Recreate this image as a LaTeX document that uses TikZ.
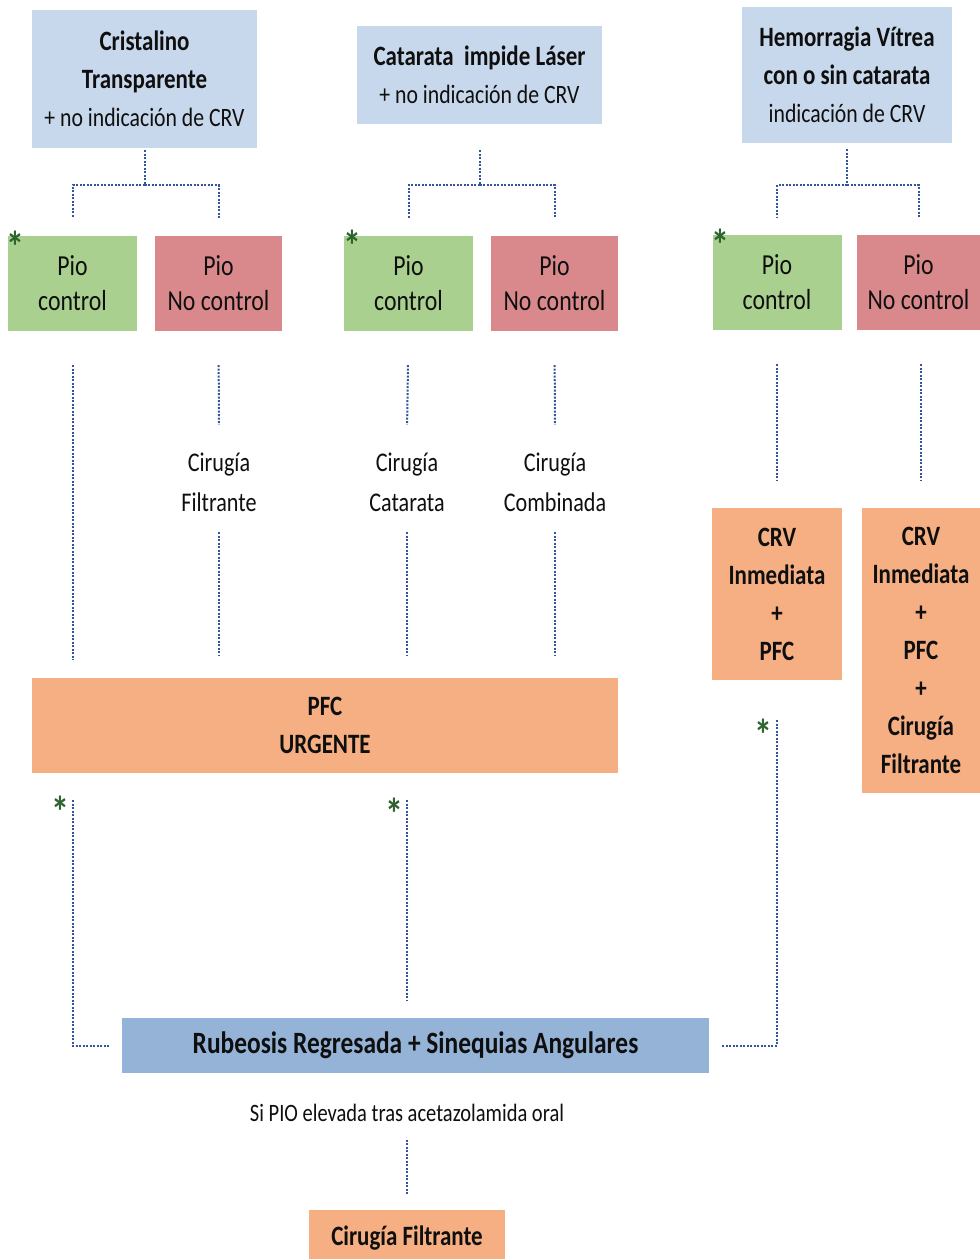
\documentclass[tikz,border=0pt]{standalone}
\usepackage{fontspec}
\setmainfont{Carlito}[FakeStretch=0.82]
\definecolor{topblue}{RGB}{200,216,236}
\definecolor{pgreen}{RGB}{169,208,142}
\definecolor{pred}{RGB}{217,137,139}
\definecolor{porange}{RGB}{245,175,130}
\definecolor{rubblue}{RGB}{149,179,215}
\definecolor{lineblue}{RGB}{50,85,155}
\definecolor{stargreen}{RGB}{45,100,45}
\definecolor{txt}{RGB}{15,15,15}
\newcommand{\tb}[1]{{\fontsize{28}{38}\selectfont\bfseries #1}}
\begin{document}
\begin{tikzpicture}[x=1pt,y=-1pt,
  box/.style={inner sep=0pt, align=center, text=txt},
  topbox/.style={box, fill=topblue, font=\fontsize{26.5}{38}\selectfont},
  pioyes/.style={box, fill=pgreen, minimum width=129pt, minimum height=95pt, font=\fontsize{29}{35}\selectfont},
  piono/.style={box, fill=pred, minimum width=127pt, minimum height=95pt, font=\fontsize{29}{35}\selectfont},
  orangebox/.style={box, fill=porange, font=\fontsize{28}{38}\selectfont\bfseries},
  lab/.style={box, minimum height=100pt, font=\fontsize{27}{40}\selectfont},
  conn/.style={draw=lineblue, line width=2pt, dash pattern=on 2pt off 1.5pt},
  astk/.style={inner sep=0pt, text=stargreen, font=\fontsize{44}{44}\selectfont\bfseries}
]
\useasboundingbox (0,0) rectangle (980,1259);
\fill[white] (0,0) rectangle (980,1259);

% top boxes
\node[topbox, minimum width=225pt, minimum height=138pt] (tA) at (144.5,79)
  {\tb{Cristalino}\\\tb{Transparente}\\+ no indicación de CRV};
\node[topbox, minimum width=245pt, minimum height=98pt] (tB) at (479.5,75)
  {\tb{Catarata\ \ impide Láser}\\+ no indicación de CRV};
\node[topbox, minimum width=210pt, minimum height=136pt] (tC) at (847,75)
  {\tb{Hemorragia Vítrea}\\\tb{con o sin catarata}\\indicación de CRV};

% Pio boxes
\node[pioyes] (gA) at (72.5,283.5) {Pio\\control};
\node[piono]  (rA) at (218.5,283.5) {Pio\\No control};
\node[pioyes] (gB) at (408.5,283.5) {Pio\\control};
\node[piono]  (rB) at (554.5,283.5) {Pio\\No control};
\node[pioyes] (gC) at (777,282.5) {Pio\\control};
\node[piono, minimum width=123pt] (rC) at (918.5,282.5) {Pio\\No control};

\node[astk] (sgA) at (15,247) {*};
\node[astk] (sgB) at (352,246) {*};
\node[astk] (sgC) at (720,245) {*};

% tree connectors
\coordinate (jA) at (144.5,185);
\coordinate (jB) at (479.5,185);
\coordinate (jC) at (847,185);
\draw[conn, shorten <=2pt] (tA.south) -- (jA);
\draw[conn, shorten >=18pt] (jA) -| (gA.north);
\draw[conn, shorten >=18pt] (jA) -| (rA.north);
\draw[conn, shorten <=26pt] (tB.south) -- (jB);
\draw[conn, shorten >=18pt] (jB) -| (gB.north);
\draw[conn, shorten >=18pt] (jB) -| (rB.north);
\draw[conn, shorten <=6pt] (tC.south) -- (jC);
\draw[conn, shorten >=17pt] (jC) -| (gC.north);
\draw[conn, shorten >=17pt] (jC) -| (rC.north);

% labels
\node[lab] (l1) at (219,482) {Cirugía\\Filtrante};
\node[lab] (l2) at (407,482) {Cirugía\\Catarata};
\node[lab] (l3) at (555,482) {Cirugía\\Combinada};

% PFC urgent
\node[orangebox, minimum width=586pt, minimum height=95pt] (pfc) at (325,725.5) {PFC\\URGENTE};

% CRV boxes
\node[orangebox, minimum width=130pt, minimum height=172pt] (crv1) at (777,594) {CRV\\Inmediata\\+\\PFC};
\node[orangebox, minimum width=118pt, minimum height=285pt] (crv2) at (921,650.5) {CRV\\Inmediata\\+\\PFC\\+\\Cirugía\\Filtrante};

% vertical connectors
\draw[conn, shorten <=34pt, shorten >=18pt] (gA.south) -- (gA.south |- pfc.north);
\draw[conn, shorten <=34pt, shorten >=7pt] (rA.south) -- (l1.north);
\draw[conn, shorten >=23pt] (l1.south) -- (l1.south |- pfc.north);
\draw[conn, shorten <=34pt, shorten >=7pt] (gB.south) -- (l2.north);
\draw[conn, shorten >=23pt] (l2.south) -- (l2.south |- pfc.north);
\draw[conn, shorten <=34pt, shorten >=7pt] (rB.south) -- (l3.north);
\draw[conn, shorten >=23pt] (l3.south) -- (l3.south |- pfc.north);
\draw[conn, shorten <=34pt, shorten >=28pt] (gC.south) -- (crv1.north);
\draw[conn, shorten <=34pt, shorten >=28pt] ([xshift=2pt]rC.south) -- ([xshift=2pt]rC.south |- crv2.north);

% Rubeosis
\node[box, fill=rubblue, minimum width=587pt, minimum height=55pt, font=\fontsize{31}{36}\selectfont\bfseries] (rub) at (415.5,1045.5)
  {Rubeosis Regresada + Sinequias Angulares};
\node[box, font=\fontsize{25}{30}\selectfont] (note) at (407,1113) {Si PIO elevada tras acetazolamida oral};
\node[orangebox, minimum width=196pt, minimum height=56pt] (cf) at (407,1238) {Cirugía Filtrante};

\draw[conn, shorten <=27pt, shorten >=12pt] (gA.south |- pfc.south) |- (rub.west);
\draw[conn, shorten <=27pt, shorten >=18pt] (l2.south |- pfc.south) -- (l2.south |- rub.north);
\draw[conn, shorten <=40pt, shorten >=13pt] (crv1.south) |- (rub.east);
\draw[conn, shorten <=18pt, shorten >=15pt] (note.south) -- (cf.north);

\node[astk] (s1) at (60,812) {*};
\node[astk] (s2) at (394,814) {*};
\node[astk] (s3) at (763,735) {*};
\end{tikzpicture}
\end{document}
